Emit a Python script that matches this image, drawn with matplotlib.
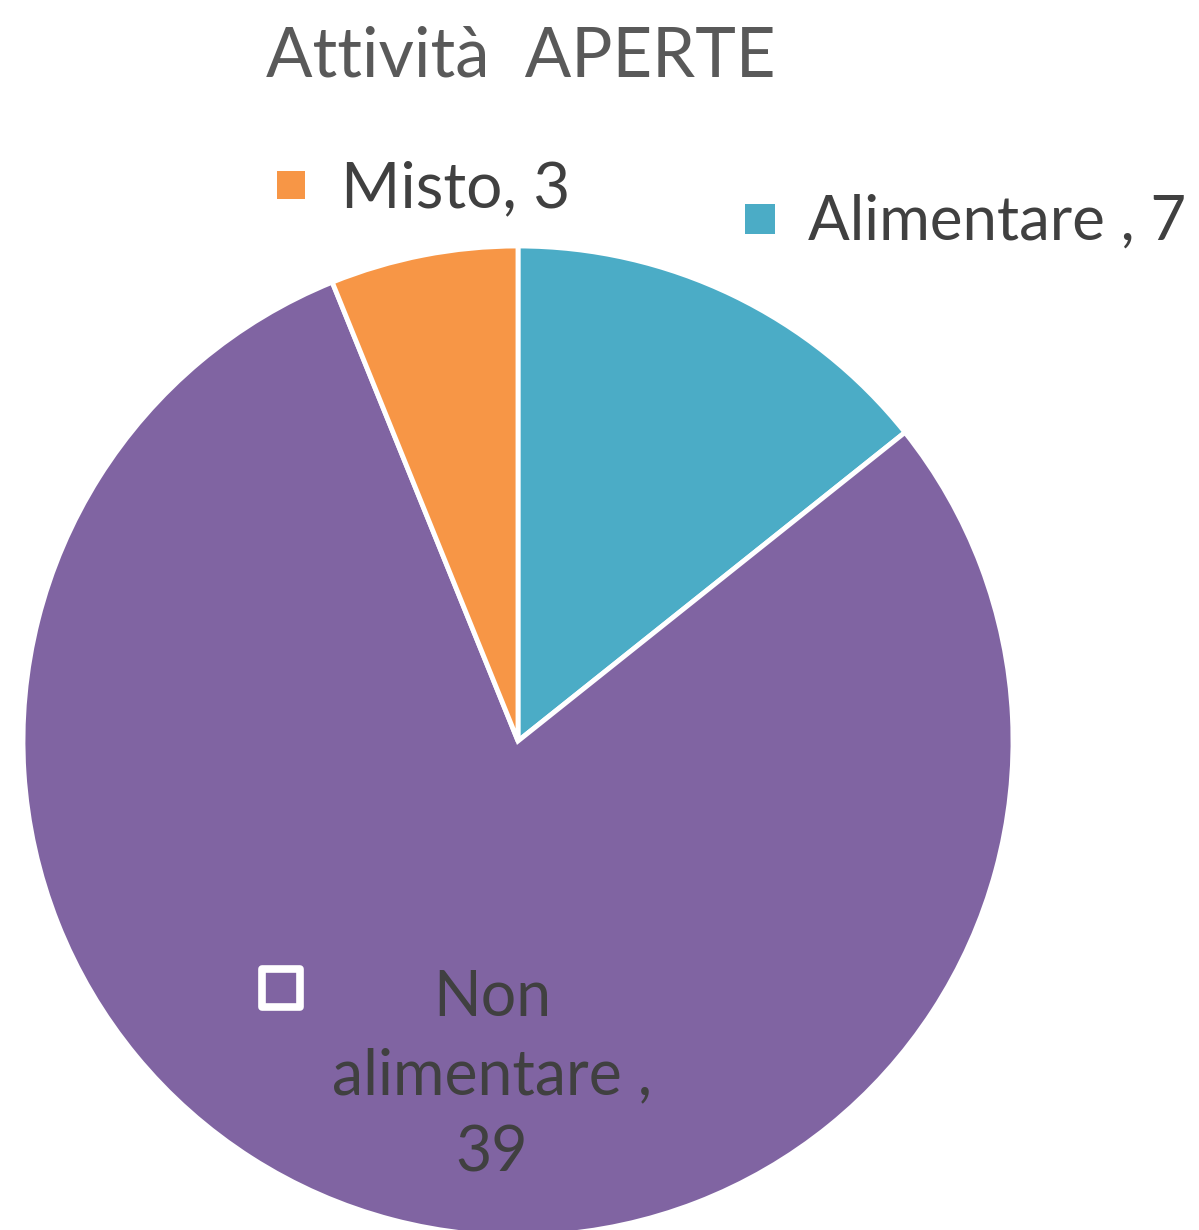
import matplotlib
matplotlib.use("Agg")
import matplotlib.pyplot as plt

# Data
categories = ["Alimentare", "Non alimentare", "Misto"]
values = [7, 39, 3]
colors = ["#4BACC6", "#8064A2", "#F79646"]
title = "Attività  APERTE"

W, H = 1199, 1230
fig = plt.figure(figsize=(W / 100, H / 100), dpi=100)
ax = fig.add_axes([0, 0, 1, 1])

cx, cy, r = 518, H - 741, 495
ax.pie(values, colors=colors, startangle=90, counterclock=False,
       center=(cx, cy), radius=r,
       wedgeprops=dict(edgecolor="white", linewidth=3.5), frame=True)
ax.set_xlim(0, W)
ax.set_ylim(0, H)
ax.set_aspect("equal")
ax.axis("off")

font = "Lato"
tc = "#404040"
ax.text(521, H - 57, title, ha="center", va="center", fontsize=49.5,
        color="#595959", family=font)

# Data labels with legend keys
ax.scatter([291], [H - 185], marker="s", s=27 ** 2 * 0.52, color=colors[2], linewidths=0)
ax.text(341, H - 189, f"{categories[2]}, {values[2]}", ha="left", va="center",
        fontsize=46, color=tc, family=font)

ax.scatter([760], [H - 219], marker="s", s=29 ** 2 * 0.52, color=colors[0], linewidths=0)
ax.text(808, H - 222, f"{categories[0]} , {values[0]}", ha="left", va="center",
        fontsize=44.5, color=tc, family=font)

ax.scatter([281], [H - 988], marker="s", s=38 ** 2 * 0.52, facecolor="none",
           edgecolor="white", linewidths=5.5)
ax.text(492, H - 1076, "Non\nalimentare ,\n" + str(values[1]), ha="center", va="center",
        fontsize=45, color=tc, family=font, linespacing=1.42)

fig.savefig("out.png", dpi=100)
